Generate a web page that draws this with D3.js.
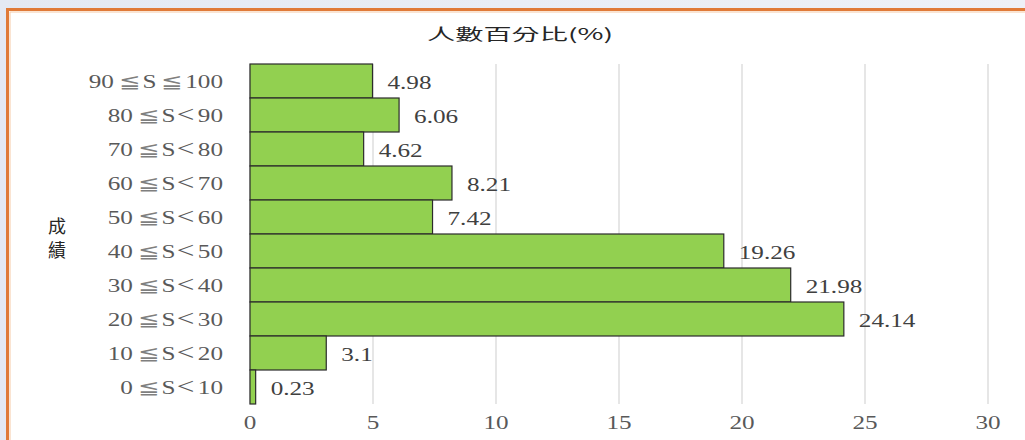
<!DOCTYPE html>
<html><head><meta charset="utf-8">
<script src="https://cdn.jsdelivr.net/npm/d3@7/dist/d3.min.js"></script>
<style>
html,body{margin:0;padding:0;background:#e9edf5;overflow:hidden;}
svg{display:block;}
</style></head>
<body>
<svg id="c" width="1025" height="440"></svg>
<script>
const categories = ["90≦S≦100","80≦S<90","70≦S<80","60≦S<70","50≦S<60","40≦S<50","30≦S<40","20≦S<30","10≦S<20","0≦S<10"];
const values = [4.98, 6.06, 4.62, 8.21, 7.42, 19.26, 21.98, 24.14, 3.1, 0.23];
const valueLabels = ["4.98","6.06","4.62","8.21","7.42","19.26","21.98","24.14","3.1","0.23"];
const xTicks = [0,5,10,15,20,25,30];
const title = "人數百分比(%)";
const yTitle = ["成","績"];

const svg = d3.select("#c");
const serif = "'Liberation Serif','DejaVu Serif',serif";
const cjk = "'Noto Sans CJK TC','Noto Sans CJK SC',sans-serif";
const SX = 1.36;

// background gradient
const defs = svg.append("defs");
const g0 = defs.append("linearGradient").attr("id","bg").attr("x1","0").attr("x2","1");
g0.append("stop").attr("offset","0").attr("stop-color","#e4e9f3");
g0.append("stop").attr("offset","1").attr("stop-color","#eef1f7");
svg.append("rect").attr("width",1025).attr("height",440).attr("fill","url(#bg)");
// panel
svg.append("rect").attr("x",7.5).attr("y",9.5).attr("width",1040).attr("height",460)
  .attr("fill","#ffffff").attr("stroke","#e07a38").attr("stroke-width",3);
svg.append("rect").attr("x",10).attr("y",12).attr("width",1040).attr("height",460)
  .attr("fill","none").attr("stroke","#f6c9a6").attr("stroke-width",1);

const x = d3.scaleLinear().domain([0,30]).range([250,988]);
const y = d3.scaleBand().domain(categories).range([64,404]).padding(0);

function stext(sel, tx, ty, anchor){
  return sel.attr("transform",`translate(${tx},${ty}) scale(${SX},1)`).attr("text-anchor",anchor);
}

// gridlines
svg.append("g").selectAll("line").data(xTicks).join("line")
  .attr("x1",d=>x(d)).attr("x2",d=>x(d)).attr("y1",64).attr("y2",404)
  .attr("stroke","#d9d9d9").attr("stroke-width",1.3);

// bars
svg.append("g").selectAll("rect").data(values).join("rect")
  .attr("x",x(0)).attr("y",(d,i)=>y(categories[i]))
  .attr("width",d=>x(d)-x(0)).attr("height",y.bandwidth())
  .attr("fill","#92d050").attr("stroke","#2b2b2b").attr("stroke-width",1.2);

// value labels
svg.append("g").selectAll("text").data(values).join("text")
  .each(function(d,i){
    stext(d3.select(this), x(d)+15, y(categories[i])+y.bandwidth()/2+8, "start");
  })
  .attr("font-family",serif).attr("font-size",18.5).attr("fill","#404040")
  .text((d,i)=>valueLabels[i]);

// y category labels (with extra spacing around relation symbols)
svg.append("g").selectAll("text").data(categories).join("text")
  .each(function(d){
    const t = d3.select(this);
    stext(t, 223, y(d)+y.bandwidth()/2+7, "end");
    const parts = d.split(/([≦<])/).filter(s=>s.length);
    let prevSym = false;
    parts.forEach(p=>{
      const ts = t.append("tspan").text(p);
      if (p==="≦") ts.attr("dx",3.5).attr("fill","#7f7f7f");
      else if (p==="<") ts.attr("dx",1).attr("font-size",23);
      else if (prevSym) ts.attr("dx", 2.5);
      prevSym = (p==="≦"||p==="<");
    });
  })
  .attr("font-family",serif).attr("font-size",18.5).attr("fill","#595959");

// x tick labels
svg.append("g").selectAll("text").data(xTicks).join("text")
  .each(function(d){
    stext(d3.select(this), x(d), 429, "middle");
  })
  .attr("font-family",serif).attr("font-size",18.5).attr("fill","#595959")
  .text(d=>d);

// title
svg.append("text").attr("x",520).attr("y",40).attr("text-anchor","middle")
  .attr("font-family",cjk).attr("font-size",16).attr("fill","#262626")
  .attr("textLength",186).attr("lengthAdjust","spacingAndGlyphs")
  .text(title);

// y title
svg.append("g").selectAll("text").data(yTitle).join("text")
  .attr("x",57).attr("y",(d,i)=>233+i*24).attr("text-anchor","middle")
  .attr("font-family",cjk).attr("font-size",18).attr("fill","#262626")
  .text(d=>d);
</script>
</body></html>
